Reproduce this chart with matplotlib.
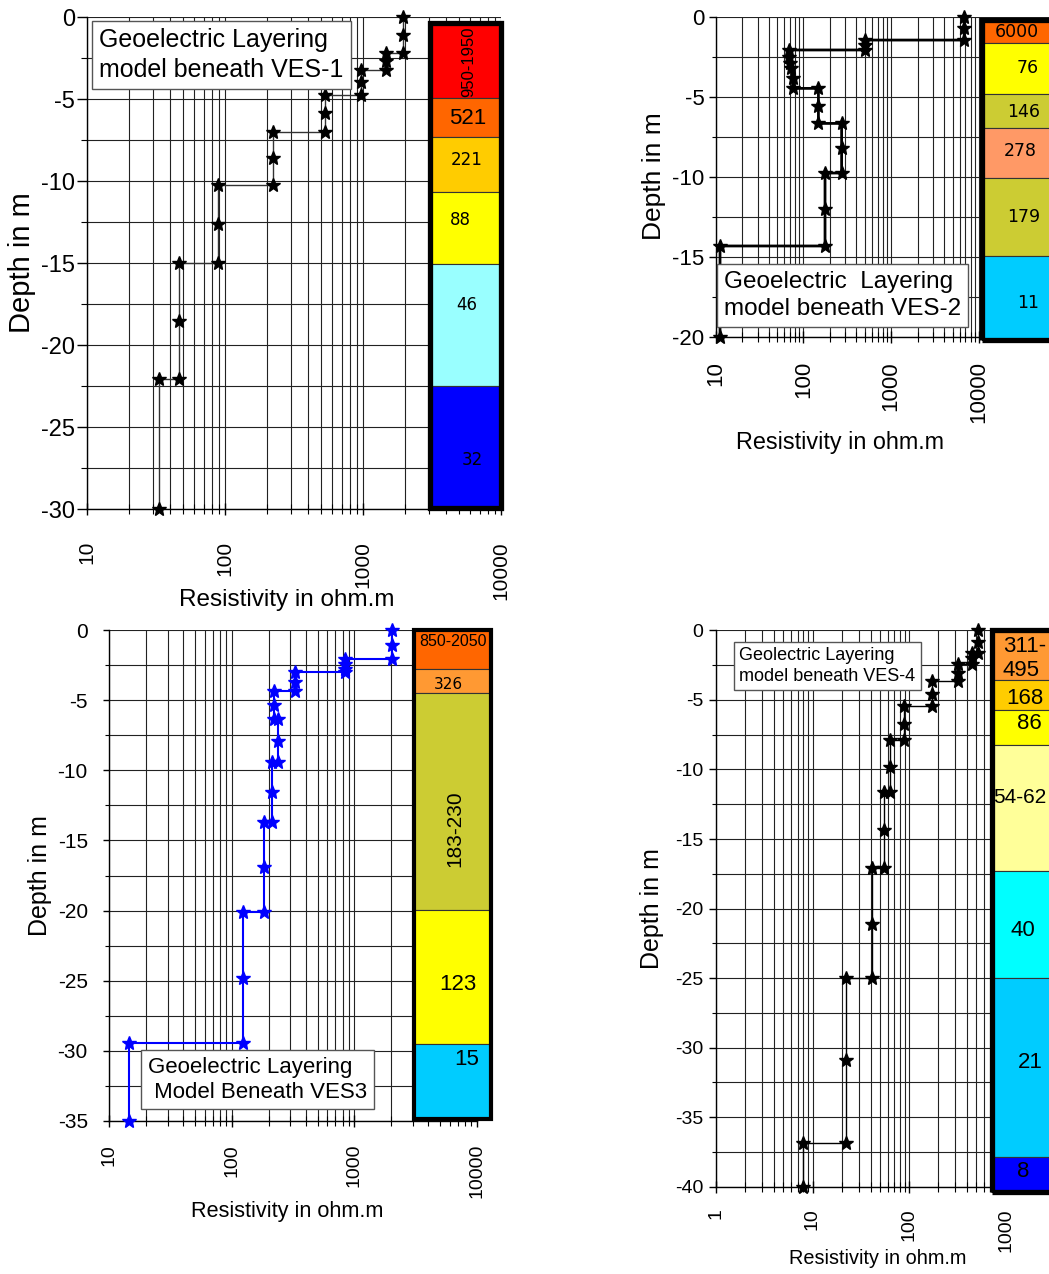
import matplotlib
matplotlib.use('Agg')
import matplotlib.pyplot as plt
import numpy as np
from matplotlib.patches import Rectangle
from matplotlib.ticker import LogLocator, MultipleLocator, NullFormatter

plt.rcParams['font.family'] = ['Liberation Sans', 'DejaVu Sans']
plt.rcParams['axes.unicode_minus'] = False

W, H = 1049, 1274

# ---- data -------------------------------------------------------------
# VES-1: resistivity (ohm.m) and depth (m) of every plotted point
ves1_rho = [1950, 1950, 1950, 1480, 1480, 1480, 970, 970, 970, 530, 530, 530,
            224, 224, 224, 89, 89, 89, 46.5, 46.5, 46.5, 33, 33]
ves1_depth = [0, -1.1, -2.2, -2.2, -2.7, -3.23, -3.23, -3.94, -4.76, -4.76, -5.87, -7.0,
              -7.0, -8.6, -10.24, -10.24, -12.6, -15.0, -15.0, -18.55, -22.05, -22.05, -30.0]
ves1_layer_top = [-0.35, -4.96, -7.34, -10.69, -15.06, -22.48]
ves1_layer_base = -29.95
ves1_layer_labels = ['950-1950', '521', '221', '88', '46', '32']

# VES-2
ves2_rho = [6770, 6770, 6770, 504, 504, 504, 69, 69, 70, 73, 75.5, 75.5,
            148, 148, 148, 272, 272, 272, 176, 176, 176, 11.2, 11.2]
ves2_depth = [0, -0.73, -1.46, -1.46, -1.77, -2.08, -2.08, -2.5, -2.92, -3.23, -3.85, -4.48,
              -4.48, -5.6, -6.67, -6.67, -8.23, -9.77, -9.77, -12.04, -14.33, -14.33, -20.0]
ves2_layer_top = [-0.23, -1.65, -4.81, -6.96, -10.08, -14.94]
ves2_layer_base = -20.2
ves2_layer_labels = ['6000', '76', '146', '278', '179', '11']

# VES3
ves3_rho = [2040, 2040, 2040, 844, 844, 844, 844, 326, 326, 326, 220, 220, 220,
            236, 236, 236, 214, 214, 214, 182, 182, 182, 124, 124, 124, 14.5, 14.5]
ves3_depth = [0, -1.07, -2.07, -2.07, -2.4, -2.75, -3.0, -3.0, -3.7, -4.37, -4.37, -5.35, -6.37,
              -6.37, -7.89, -9.38, -9.38, -11.52, -13.66, -13.66, -16.87, -20.07, -20.07, -24.8,
              -29.46, -29.46, -35.0]
ves3_layer_top = [0, -2.8, -4.47, -19.96, -29.5]
ves3_layer_base = -34.85
ves3_layer_labels = ['850-2050', '326', '183-230', '123', '15']

# VES-4
ves4_rho = [515, 515, 515, 446, 446, 446, 324, 324, 324, 175, 175, 175, 89, 89, 89,
            63.5, 63.5, 63.5, 55.5, 55.5, 55.5, 41.4, 41.4, 41.4, 22.1, 22.1, 22.1, 8.0, 8.0]
ves4_depth = [0, -0.8, -1.65, -1.65, -2.0, -2.4, -2.4, -3.05, -3.65, -3.65, -4.58, -5.4,
              -5.4, -6.76, -7.9, -7.9, -9.83, -11.64, -11.64, -14.38, -17.1, -17.1, -21.1,
              -25.0, -25.0, -30.9, -36.86, -36.86, -40.0]
ves4_layer_top = [0, -3.57, -5.7, -8.22, -17.3, -25.0, -37.9]
ves4_layer_base = -40.4
ves4_layer_labels = ['311-\n495', '168', '86', '54-62', '40', '21', '8']

res_ticks = [10, 100, 1000, 10000]
res_ticks_ves4 = [1, 10, 100, 1000]

titles = ['Geoelectric Layering\nmodel beneath VES-1',
          'Geoelectric  Layering\nmodel beneath VES-2',
          'Geoelectric Layering\n Model Beneath VES3',
          'Geolectric Layering\nmodel beneath VES-4']

# ---- styles -----------------------------------------------------------
ves1_colors = ['#FF0000', '#FF6600', '#FFCC00', '#FFFF00', '#99FFFF', '#0000FF']
ves2_colors = ['#FF6600', '#FFFF00', '#CCCC33', '#FF9966', '#CCCC33', '#00CCFF']
ves3_colors = ['#FF6600', '#FF9933', '#CCCC33', '#FFFF00', '#00CCFF']
ves4_colors = ['#FF9933', '#FFCC00', '#FFFF00', '#FFFF99', '#00FFFF', '#00CCFF', '#0000FF']

fig = plt.figure(figsize=(W / 100, H / 100), dpi=100)


def add_axes(x0, x1, top, bottom):
    return fig.add_axes([x0 / W, 1 - bottom / H, (x1 - x0) / W, (bottom - top) / H])


def setup_axes(ax, xlim, ymin, xticks, xfs, yfs, xpad, ypad, ylen):
    ax.set_xscale('log')
    ax.set_xlim(*xlim)
    ax.set_ylim(ymin, 0)
    ax.set_xticks(xticks, labels=[str(t) for t in xticks])
    ax.xaxis.set_minor_locator(LogLocator(base=10, subs=np.arange(2, 10), numticks=100))
    ax.xaxis.set_minor_formatter(NullFormatter())
    yt = np.arange(ymin, 1, 5)
    ax.set_yticks(yt, labels=[str(int(v)) for v in yt])
    ax.yaxis.set_minor_locator(MultipleLocator(2.5))
    ax.grid(True, which='both', color='#222222', lw=0.8)
    ax.set_axisbelow(True)
    for s in ['top', 'right']:
        ax.spines[s].set_visible(False)
    for s in ['left', 'bottom']:
        ax.spines[s].set_linewidth(1.0)
    ax.tick_params(axis='x', which='major', direction='inout', length=9, width=1,
                   labelrotation=90, labelsize=xfs, pad=xpad)
    ax.tick_params(axis='x', which='minor', direction='inout', length=7, width=0.8)
    ax.tick_params(axis='y', which='major', direction='out', length=ylen, width=1,
                   labelsize=yfs, pad=ypad)
    ax.tick_params(axis='y', which='minor', direction='out', length=ylen * 0.6, width=0.8)


def draw_column(ax, x0, x1, tops, base, colors, lw):
    tr = ax.get_yaxis_transform()
    edges = list(tops) + [base]
    for i, c in enumerate(colors):
        ax.add_patch(Rectangle((x0, edges[i + 1]), x1 - x0, edges[i] - edges[i + 1],
                               transform=tr, facecolor=c, edgecolor='#333333', lw=0.8,
                               clip_on=False, zorder=4))
    ax.add_patch(Rectangle((x0, base), x1 - x0, tops[0] - base, transform=tr, fill=False,
                           edgecolor='black', lw=lw, clip_on=False, zorder=5,
                           joinstyle='miter'))


def column_labels(ax, labels, layout):
    tr = ax.get_yaxis_transform()
    for lab, (xf, d, ha, size, fam, rot) in zip(labels, layout):
        ax.text(xf, d, lab, transform=tr, ha=ha, va='center', fontsize=size,
                family=fam, rotation=rot, zorder=6, clip_on=False, linespacing=1.2)


def title_box(x, y, text, size, pad, spacing):
    fig.text(x / W, 1 - y / H, text, ha='left', va='top', fontsize=size, linespacing=spacing,
             zorder=10,
             bbox=dict(boxstyle=f'square,pad={pad}', fc='white', ec='#555555', lw=1.0))


def axis_labels(xpos, ypos, xfs, yfs):
    fig.text(xpos[0] / W, 1 - xpos[1] / H, 'Resistivity in ohm.m', ha='center', va='center',
             fontsize=xfs)
    fig.text(ypos[0] / W, 1 - ypos[1] / H, 'Depth in m', ha='center', va='center',
             fontsize=yfs, rotation=90)


AR = 'Liberation Sans'
DV = 'DejaVu Sans'

# ---- VES-1 ------------------------------------------------------------
ax1 = add_axes(87, 501, 17, 509)
setup_axes(ax1, (10, 1e4), -30, res_ticks, 15, 17, 18.5, 1.5, 7)
ax1.plot(ves1_rho, ves1_depth, color='#333333', lw=1.0, marker='*', ms=10,
         mfc='black', mec='black', zorder=3, clip_on=False)
draw_column(ax1, 0.829, 1.0, ves1_layer_top, ves1_layer_base, ves1_colors, 3.8)
column_labels(ax1, ves1_layer_labels, [
    (0.922, -2.74, 'center', 12, AR, 90),
    (0.920, -6.16, 'center', 16, AR, 0),
    (0.918, -8.72, 'center', 12, DV, 0),
    (0.903, -12.38, 'center', 12, DV, 0),
    (0.918, -17.56, 'center', 12, DV, 0),
    (0.930, -27.0, 'center', 12, DV, 0),
])
title_box(99, 28, titles[0], 18, 0.3, 1.3)
axis_labels((287, 600), (22, 263), 17.5, 21)

# ---- VES-2 ------------------------------------------------------------
ax2 = add_axes(715.7, 1066.8, 16.7, 336.7)
setup_axes(ax2, (10, 1e5), -20, res_ticks, 16, 16, 13, 3, 5)
ax2.plot(ves2_rho, ves2_depth, color='black', lw=2.0, marker='*', ms=10,
         mfc='black', mec='black', zorder=3, clip_on=False)
draw_column(ax2, 0.758, 1.0, ves2_layer_top, ves2_layer_base, ves2_colors, 3.8)
column_labels(ax2, ves2_layer_labels, [
    (0.795, -0.96, 'left', 12.5, DV, 0),
    (0.890, -3.23, 'center', 12.5, DV, 0),
    (0.876, -5.98, 'center', 12.5, DV, 0),
    (0.867, -8.40, 'center', 12.5, DV, 0),
    (0.876, -12.5, 'center', 12.5, DV, 0),
    (0.890, -17.9, 'center', 12.5, DV, 0),
])
title_box(724, 271, titles[1], 17.5, 0.28, 1.3)
axis_labels((840, 443), (654, 176), 16.8, 19)

# ---- VES3 -------------------------------------------------------------
ax3 = add_axes(109.3, 477, 630, 1121)
setup_axes(ax3, (10, 1e4), -35, res_ticks, 14, 15, 12, 11, 4.5)
ax3.plot(ves3_rho, ves3_depth, color='#0000FF', lw=1.5, marker='*', ms=10,
         mfc='#0000FF', mec='#0000FF', zorder=3, clip_on=False)
draw_column(ax3, 0.829, 1.037, ves3_layer_top, ves3_layer_base, ves3_colors, 3.0)
column_labels(ax3, ves3_layer_labels, [
    (0.934, -0.83, 'center', 11.5, AR, 0),
    (0.922, -3.85, 'center', 11, DV, 0),
    (0.940, -14.14, 'center', 15, AR, 90),
    (0.947, -25.3, 'center', 16, AR, 0),
    (0.972, -30.65, 'center', 16, AR, 0),
])
title_box(148, 1057, titles[2], 16, 0.3, 1.22)
axis_labels((287, 1211), (40, 876), 15.6, 18)

# ---- VES-4 ------------------------------------------------------------
ax4 = add_axes(716, 1102, 630.4, 1186.7)
setup_axes(ax4, (1, 1e4), -40, res_ticks_ves4, 14, 14, 11, 4, 5)
ax4.plot(ves4_rho, ves4_depth, color='black', lw=1.0, marker='*', ms=10,
         mfc='black', mec='black', zorder=3, clip_on=False)
draw_column(ax4, 0.715, 1.0, ves4_layer_top, ves4_layer_base, ves4_colors, 3.8)
column_labels(ax4, ves4_layer_labels, [
    (0.743, -2.0, 'left', 16, AR, 0),
    (0.753, -4.93, 'left', 16, AR, 0),
    (0.781, -6.68, 'left', 16, AR, 0),
    (0.718, -12.0, 'left', 15, AR, 0),
    (0.795, -21.6, 'center', 16, AR, 0),
    (0.813, -31.1, 'center', 16, AR, 0),
    (0.795, -38.9, 'center', 16, AR, 0),
])
title_box(739, 647, titles[3], 13, 0.3, 1.3)
axis_labels((878, 1258), (652, 909), 14.3, 18)

fig.savefig('out.png', dpi=100)
